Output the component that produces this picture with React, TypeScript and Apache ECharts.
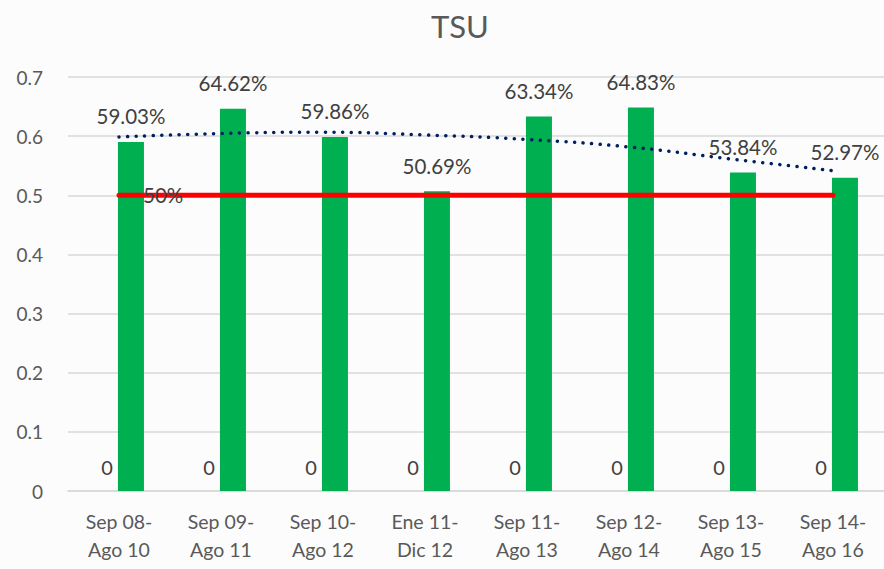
import React, { useEffect, useRef } from "react";
import * as echarts from "echarts";

const categories = [
  "Sep 08-\nAgo 10",
  "Sep 09-\nAgo 11",
  "Sep 10-\nAgo 12",
  "Ene 11-\nDic 12",
  "Sep 11-\nAgo 13",
  "Sep 12-\nAgo 14",
  "Sep 13-\nAgo 15",
  "Sep 14-\nAgo 16",
];
const tsuValues = [0.5903, 0.6462, 0.5986, 0.5069, 0.6334, 0.6483, 0.5384, 0.5297];
const zeroValues = [0, 0, 0, 0, 0, 0, 0, 0];
const targetValues = [0.5, 0.5, 0.5, 0.5, 0.5, 0.5, 0.5, 0.5];
const trendValues = [0.5986, 0.6045, 0.6065, 0.602, 0.5944, 0.5817, 0.5614, 0.5416];

const FONT = "Lato, 'Open Sans', sans-serif";

export default function App() {
  const ref = useRef<HTMLDivElement>(null);
  useEffect(() => {
    document.body.style.margin = "0";
    const chart = echarts.init(ref.current!, null, { renderer: "svg" });
    chart.setOption({
      animation: false,
      backgroundColor: "#fcfcfc",
      textStyle: { fontFamily: FONT },
      title: {
        text: "TSU",
        left: 455,
        top: 5,
        textAlign: "center",
        textStyle: { fontFamily: FONT, fontSize: 31, fontWeight: "normal", color: "#595959" },
      },
      grid: { left: 68, right: 0, top: 77, bottom: 78 },
      xAxis: {
        type: "category",
        data: categories,
        axisLine: { lineStyle: { color: "#d9d9d9", width: 1.5 } },
        axisTick: { show: false },
        axisLabel: { fontFamily: FONT, fontSize: 19.5, color: "#595959", lineHeight: 28, margin: 16 },
      },
      yAxis: {
        type: "value",
        min: 0,
        max: 0.7,
        interval: 0.1,
        axisLine: { show: false },
        axisTick: { show: false },
        splitLine: { lineStyle: { color: "#d9d9d9", width: 1.5 } },
        axisLabel: {
          fontFamily: FONT,
          fontSize: 19,
          color: "#595959",
          margin: 25,
          formatter: (v: number) => String(+v.toFixed(1)),
        },
      },
      series: [
        {
          name: "zero",
          type: "bar",
          data: zeroValues,
          barWidth: 26,
          barGap: "-8%",
          itemStyle: { color: "#00b050" },
          label: {
            show: true,
            position: "top",
            distance: 14,
            fontFamily: FONT,
            fontSize: 20,
            color: "#404040",
            formatter: "{c}",
          },
        },
        {
          name: "TSU",
          type: "bar",
          data: tsuValues,
          barWidth: 26,
          itemStyle: { color: "#00b050" },
          label: {
            show: true,
            position: "top",
            distance: 15,
            fontFamily: FONT,
            fontSize: 20.5,
            color: "#404040",
            formatter: (p: any) => (p.value * 100).toFixed(2) + "%",
          },
        },
        {
          name: "trend",
          type: "line",
          data: trendValues,
          smooth: true,
          symbol: "none",
          lineStyle: { color: "#002060", width: 3.5, type: [0.1, 8.5], cap: "round" },
          z: 4,
        },
        {
          name: "meta",
          type: "line",
          data: targetValues.map((v, i) =>
            i === 0
              ? {
                  value: v,
                  label: {
                    show: true,
                    position: "right",
                    distance: 24,
                    fontFamily: FONT,
                    fontSize: 20.5,
                    color: "#404040",
                    formatter: "50%",
                  },
                }
              : v
          ),
          symbol: "circle",
          symbolSize: 0.01,
          showSymbol: true,
          itemStyle: { color: "#ff0000" },
          lineStyle: { color: "#ff0000", width: 5, cap: "round" },
          z: 5,
        },
      ],
    });
    return () => chart.dispose();
  }, []);
  return <div ref={ref} style={{ width: 884, height: 569 }} />;
}
